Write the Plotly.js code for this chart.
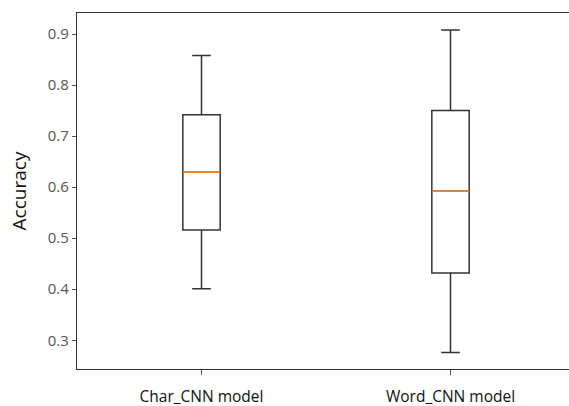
<!DOCTYPE html>
<html>
<head>
<meta charset="utf-8">
<script src="https://cdn.plot.ly/plotly-3.0.1.min.js"></script>
<style>
  html, body { margin: 0; padding: 0; overflow: hidden; background: #fff; }
  #chart { width: 580px; height: 406px; }
</style>
</head>
<body>
<div id="chart"></div>
<script>
// ---- data ----
const categories = ["Char_CNN model", "Word_CNN model"];
const positions = [1, 2];
const lowerWhisker = [0.401, 0.276];
const q1 = [0.516, 0.432];
const median = [0.630, 0.592];
const q3 = [0.742, 0.750];
const upperWhisker = [0.858, 0.908];
const yTickVals = [0.3, 0.4, 0.5, 0.6, 0.7, 0.8, 0.9];
const yTickText = ["0.3", "0.4", "0.5", "0.6", "0.7", "0.8", "0.9"];

// ---- styles ----
const boxWidth = 0.15;
const lineColor = "#333333";
const medianColor = "#ff7f0e";
const fontFamily = "'Open Sans', 'Noto Sans', sans-serif";

const boxTrace = {
  type: "box",
  x: positions,
  q1: q1,
  median: median,
  q3: q3,
  lowerfence: lowerWhisker,
  upperfence: upperWhisker,
  width: boxWidth,
  whiskerwidth: 0.5,
  boxpoints: false,
  fillcolor: "rgba(0,0,0,0)",
  line: { color: lineColor, width: 1.5 },
  hoverinfo: "skip",
  showlegend: false
};

const medX = [], medY = [];
positions.forEach((p, i) => {
  medX.push(p - boxWidth / 2, p + boxWidth / 2, null);
  medY.push(median[i], median[i], null);
});
const medianTrace = {
  type: "scatter",
  mode: "lines",
  x: medX,
  y: medY,
  line: { color: medianColor, width: 1.6 },
  hoverinfo: "skip",
  showlegend: false
};

const layout = {
  width: 580,
  height: 406,
  margin: { l: 77, r: 5, t: 13, b: 37, pad: 0 },
  paper_bgcolor: "#ffffff",
  plot_bgcolor: "#ffffff",
  font: { family: fontFamily, size: 14, color: "#222" },
  showlegend: false,
  xaxis: {
    range: [0.5, 2.5],
    tickvals: positions,
    ticktext: categories,
    ticks: "outside",
    ticklen: 5,
    tickwidth: 1,
    tickcolor: "#555",
    showline: true,
    mirror: true,
    linecolor: lineColor,
    linewidth: 1.2,
    showgrid: false,
    zeroline: false,
    ticklabelstandoff: 8,
    tickfont: { family: fontFamily, size: 15.5, color: "#111" }
  },
  yaxis: {
    range: [0.2437, 0.9412],
    tickvals: yTickVals,
    ticktext: yTickText,
    ticks: "outside",
    ticklen: 4,
    tickwidth: 1,
    tickcolor: "#555",
    showline: true,
    mirror: false,
    linecolor: lineColor,
    linewidth: 1.2,
    showgrid: false,
    zeroline: false,
    tickfont: { family: fontFamily, size: 15, color: "#555" },
    title: { text: "Accuracy", standoff: 16, font: { family: fontFamily, size: 19, color: "#111" } }
  }
};

Plotly.newPlot("chart", [boxTrace, medianTrace], layout, { staticPlot: true, displayModeBar: false });
</script>
</body>
</html>
